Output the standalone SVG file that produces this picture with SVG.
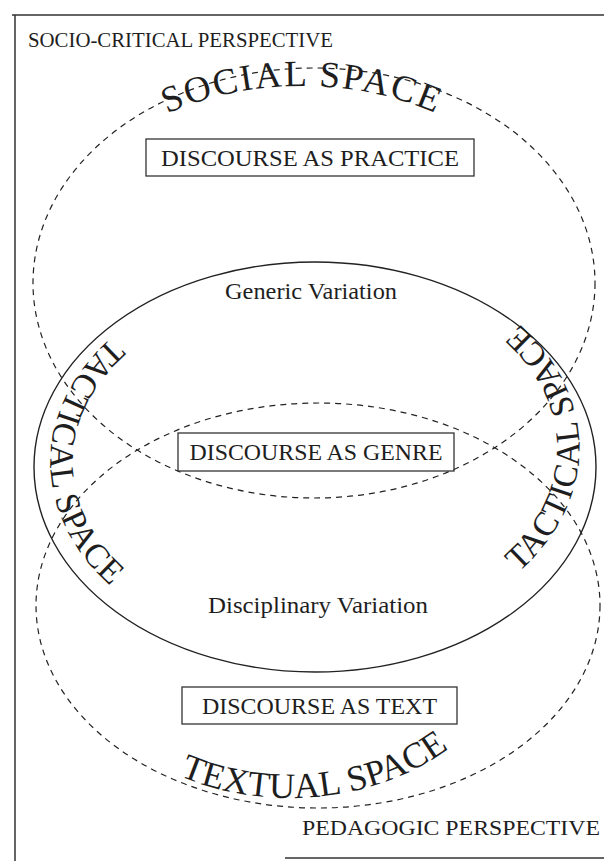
<svg xmlns="http://www.w3.org/2000/svg" width="604" height="861" viewBox="0 0 604 861">
<style>
  text { font-family: "Liberation Serif", "Times New Roman", serif; fill: #1e1e1e; }
  .frame { fill: none; stroke: #333; stroke-width: 1.5; }
  .dash { fill: none; stroke: #222; stroke-width: 1.2; stroke-dasharray: 6 5; }
  .solid { fill: none; stroke: #222; stroke-width: 1.4; }
  .box { fill: none; stroke: #333; stroke-width: 1.3; }
  .lbl { font-size: 24px; text-anchor: middle; }
  .arc { font-size: 37px; letter-spacing: 2px; text-anchor: middle; }
  .arc2 { font-size: 36px; letter-spacing: 0px; text-anchor: middle; }
  .tac { font-size: 34px; letter-spacing: 0.7px; text-anchor: middle; }
  .persp { font-size: 21px; }
  .var { font-size: 23px; text-anchor: middle; }
</style>
<defs>
  <path id="p-social" d="M72,186.6 A265,200 0 0 1 532,186.6"/>
  <path id="p-textual" d="M80,691.4 A230,180 0 0 0 500,691.4"/>
  <path id="p-tac-left" d="M146,312 A265,195 0 0 0 146,612"/>
  <path id="p-tac-right" d="M484,598 A264,195 0 0 0 484,298"/>
</defs>
<rect width="604" height="861" fill="#fff"/>

<g id="frame">
  <path class="frame" d="M12,15 H604 M15,15 V861 M285,858 H604"/>
  <text class="persp" x="28" y="47" textLength="305" lengthAdjust="spacingAndGlyphs">SOCIO-CRITICAL PERSPECTIVE</text>
  <text class="persp" x="302" y="835" textLength="298" lengthAdjust="spacingAndGlyphs">PEDAGOGIC PERSPECTIVE</text>
</g>

<g id="social-space">
  <ellipse class="dash" cx="314" cy="283" rx="281" ry="215"/>
  <text class="arc"><textPath href="#p-social" startOffset="50%">SOCIAL SPACE</textPath></text>
  <rect class="box" x="146" y="139" width="328" height="37"/>
  <text class="lbl" x="310" y="166" textLength="298" lengthAdjust="spacingAndGlyphs">DISCOURSE AS PRACTICE</text>
</g>

<g id="textual-space">
  <ellipse class="dash" cx="318" cy="605.5" rx="282" ry="202.5"/>
  <text class="arc2"><textPath href="#p-textual" startOffset="274">TEXTUAL SPACE</textPath></text>
  <rect class="box" x="182" y="687" width="275" height="37"/>
  <text class="lbl" x="319.5" y="713.5" textLength="235" lengthAdjust="spacingAndGlyphs">DISCOURSE AS TEXT</text>
</g>

<g id="tactical-space">
  <ellipse class="solid" cx="315" cy="467" rx="281" ry="205"/>
  <text class="tac"><textPath href="#p-tac-left" startOffset="50%">TACTICAL SPACE</textPath></text>
  <text class="tac"><textPath href="#p-tac-right" startOffset="50%">TACTICAL SPACE</textPath></text>
  <text class="var" x="311" y="299" textLength="172" lengthAdjust="spacingAndGlyphs">Generic Variation</text>
  <text class="var" x="318" y="613" textLength="220" lengthAdjust="spacingAndGlyphs">Disciplinary Variation</text>
</g>

<g id="genre">
  <rect class="box" x="178" y="433" width="276" height="38"/>
  <text class="lbl" x="316" y="460" textLength="253" lengthAdjust="spacingAndGlyphs">DISCOURSE AS GENRE</text>
</g>

<g id="connectors"></g>
</svg>
